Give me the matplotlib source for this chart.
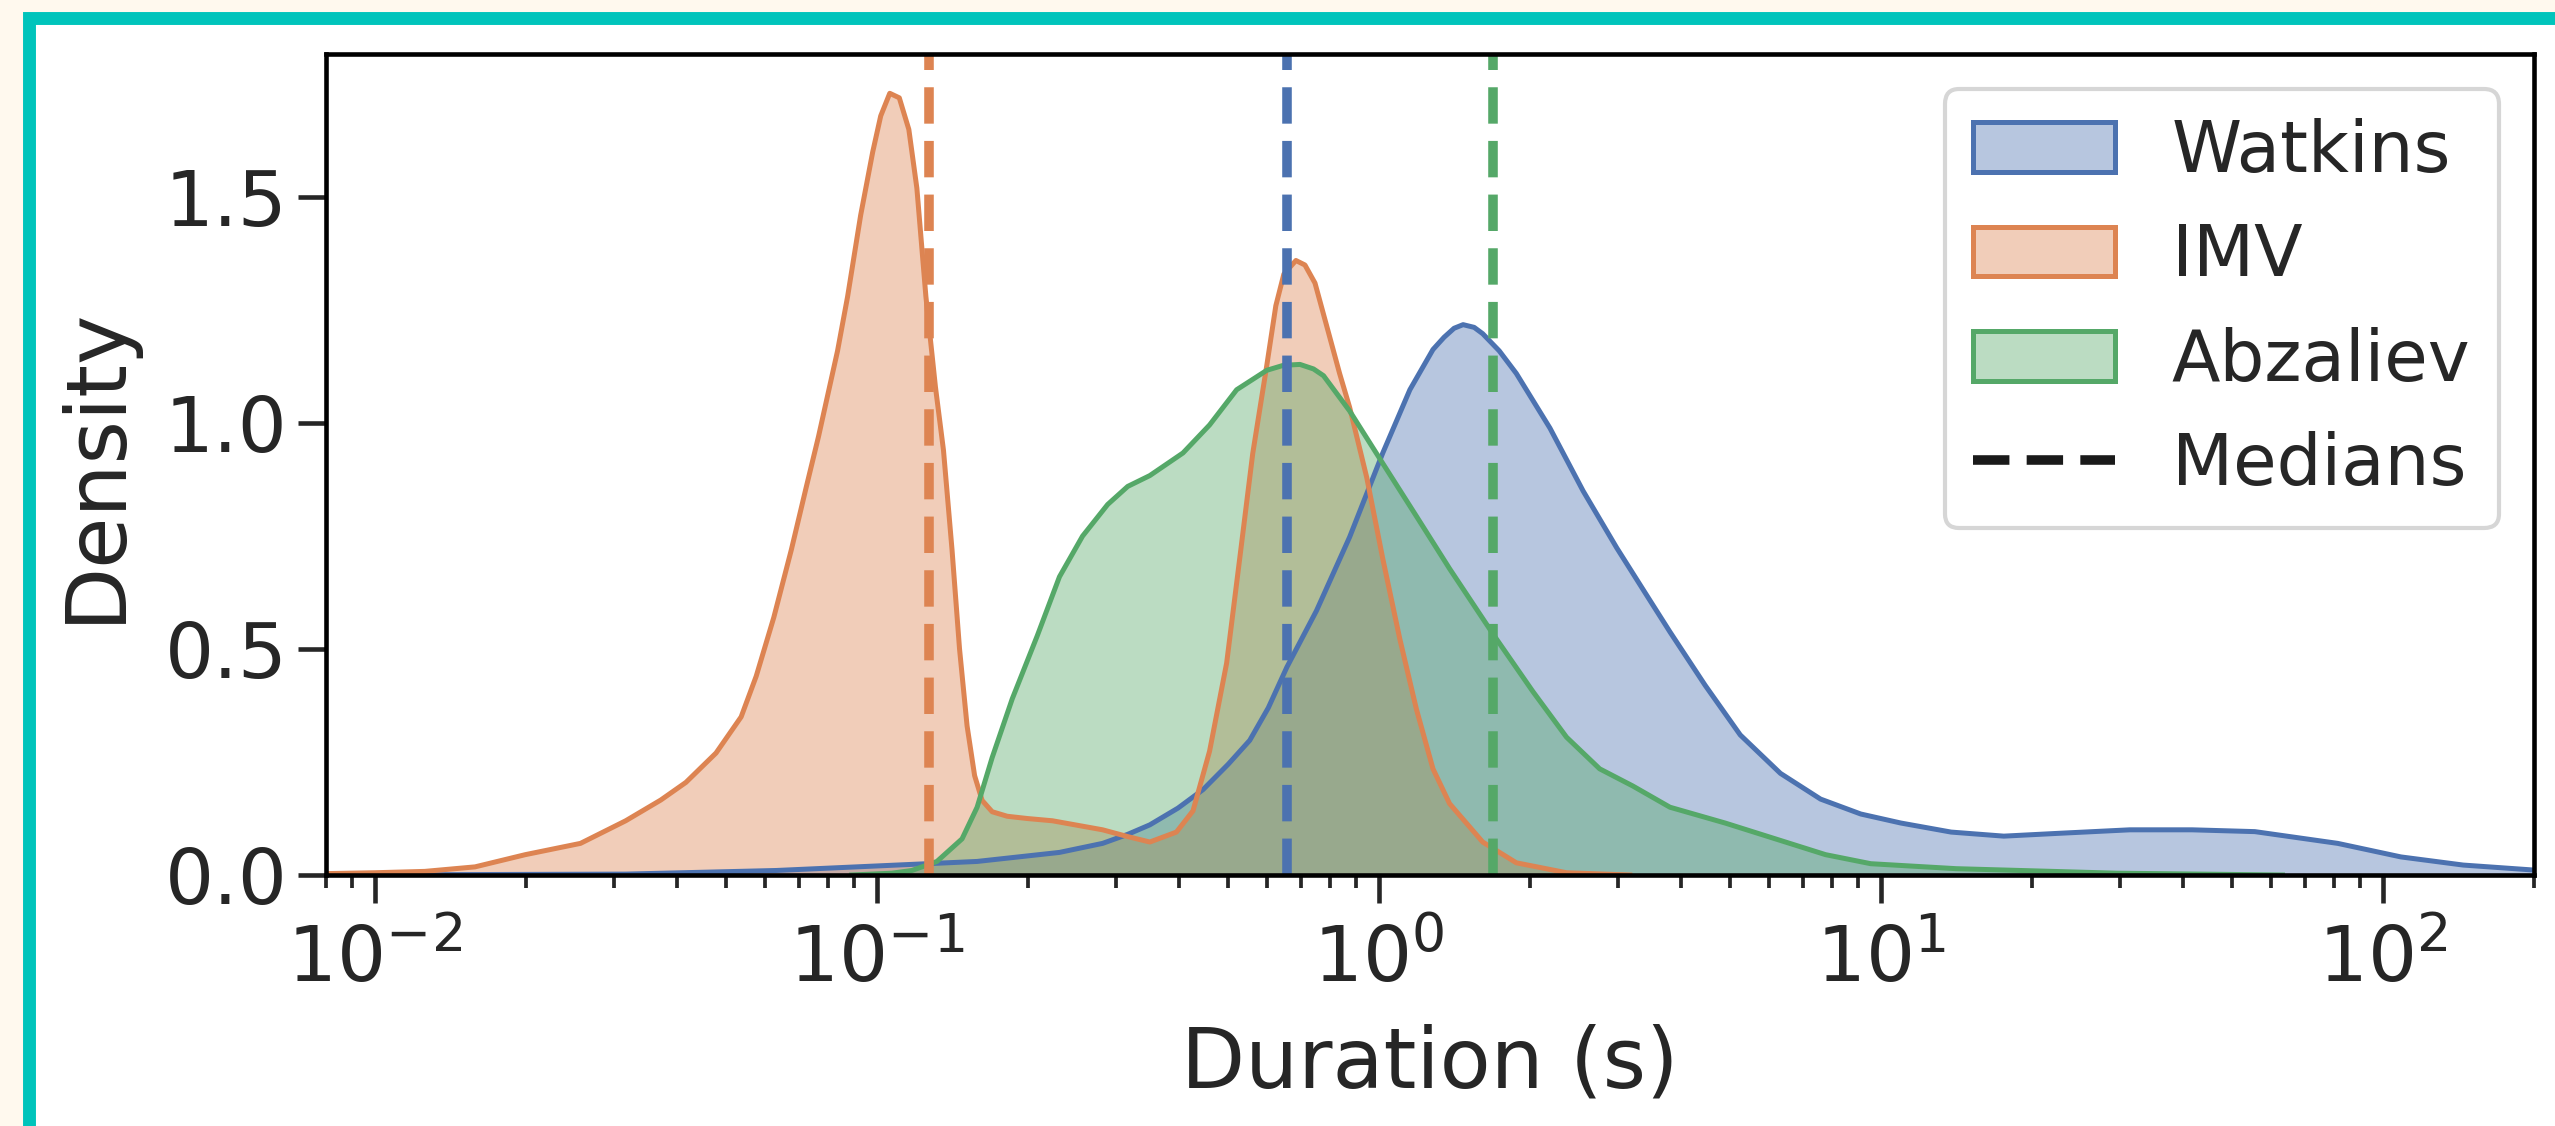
import matplotlib
matplotlib.use("Agg")
import matplotlib.pyplot as plt
from matplotlib.patches import Rectangle, Patch
from matplotlib.lines import Line2D
import numpy as np

# KDE curves: log10(duration) and density
watkins_logx = [-2.10, -1.5, -1.2, -1.0, -0.8, -0.636, -0.55, -0.50, -0.456, -0.40,
                -0.35, -0.30, -0.257, -0.22, -0.183, -0.124, -0.058, 0.008, 0.062, 0.108,
                0.13, 0.15, 0.168, 0.19, 0.207, 0.24, 0.274, 0.341, 0.407, 0.474,
                0.54, 0.58, 0.65, 0.72, 0.80, 0.88, 0.96, 1.04, 1.14, 1.245,
                1.35, 1.496, 1.62, 1.745, 1.91, 2.036, 2.16, 2.30]
watkins_dens = [0.0, 0.002, 0.01, 0.02, 0.03, 0.05, 0.07, 0.09, 0.111, 0.148,
                0.189, 0.245, 0.298, 0.37, 0.46, 0.585, 0.748, 0.934, 1.074, 1.163,
                1.19, 1.21, 1.218, 1.212, 1.198, 1.16, 1.11, 0.989, 0.85, 0.724,
                0.608, 0.538, 0.42, 0.31, 0.225, 0.168, 0.135, 0.115, 0.095, 0.086,
                0.092, 0.10, 0.10, 0.096, 0.07, 0.04, 0.022, 0.011]

imv_logx = [-2.10, -2.0, -1.9, -1.8, -1.7, -1.59, -1.5, -1.43, -1.38, -1.32,
            -1.27, -1.24, -1.205, -1.17, -1.14, -1.116, -1.078, -1.058, -1.032, -1.008,
            -0.992, -0.974, -0.955, -0.936, -0.92, -0.902, -0.883, -0.867, -0.85, -0.835,
            -0.82, -0.805, -0.79, -0.77, -0.74, -0.70, -0.65, -0.60, -0.55, -0.50,
            -0.456, -0.403, -0.37, -0.337, -0.303, -0.277, -0.251, -0.223, -0.205, -0.189,
            -0.165, -0.147, -0.127, -0.10, -0.078, -0.058, -0.024, 0.008, 0.042, 0.075,
            0.108, 0.141, 0.207, 0.274, 0.374, 0.5]
imv_dens = [0.003, 0.005, 0.008, 0.018, 0.045, 0.07, 0.12, 0.166, 0.205, 0.27,
            0.35, 0.44, 0.57, 0.72, 0.86, 0.97, 1.16, 1.28, 1.46, 1.60,
            1.68, 1.73, 1.72, 1.65, 1.52, 1.28, 1.08, 0.94, 0.72, 0.50,
            0.33, 0.22, 0.165, 0.14, 0.13, 0.125, 0.12, 0.11, 0.10, 0.085,
            0.073, 0.095, 0.142, 0.274, 0.469, 0.70, 0.933, 1.128, 1.26, 1.33,
            1.36, 1.35, 1.31, 1.20, 1.11, 1.035, 0.88, 0.70, 0.522, 0.367,
            0.235, 0.158, 0.073, 0.027, 0.005, 0.0]

abz_logx = [-1.05, -0.97, -0.93, -0.88, -0.83, -0.80, -0.77, -0.73, -0.68, -0.636,
            -0.59, -0.54, -0.50, -0.456, -0.39, -0.337, -0.283, -0.223, -0.19, -0.157,
            -0.13, -0.11, -0.058, 0.008, 0.075, 0.141, 0.229, 0.307, 0.374, 0.44,
            0.506, 0.58, 0.69, 0.79, 0.89, 0.98, 1.15, 1.47, 1.8]
abz_dens = [0.0, 0.004, 0.01, 0.03, 0.08, 0.15, 0.26, 0.39, 0.53, 0.66,
            0.75, 0.82, 0.86, 0.884, 0.934, 0.996, 1.074, 1.117, 1.128, 1.13,
            1.12, 1.105, 1.027, 0.911, 0.794, 0.678, 0.531, 0.406, 0.305, 0.235,
            0.197, 0.15, 0.115, 0.08, 0.045, 0.025, 0.014, 0.004, 0.0]

names = ["Watkins", "IMV", "Abzaliev"]
medians = [0.656, 0.127, 1.69]
colors = ["#4C72B0", "#DD8452", "#55A868"]

plt.rcParams['font.family'] = 'DejaVu Sans'
plt.rcParams['text.color'] = '#262626'
plt.rcParams['axes.labelcolor'] = '#262626'
plt.rcParams['xtick.color'] = '#262626'
plt.rcParams['ytick.color'] = '#262626'

fig = plt.figure(figsize=(2555 / 300, 1126 / 300), dpi=300, facecolor='#FFF9EE')

# teal frame, cut off at right and bottom
frame = Rectangle((28.5 / 2555, -0.5), 2.0, 1.5 - 17.5 / 1126, transform=fig.transFigure,
                  facecolor='white', edgecolor='#00C4BB', lw=3.1, zorder=0)
fig.add_artist(frame)

ax = fig.add_axes([326 / 2555, 1 - 875 / 1126, (2534 - 326) / 2555, (875 - 54) / 1126])
ax.set_facecolor('white')

series = [(watkins_logx, watkins_dens), (imv_logx, imv_dens), (abz_logx, abz_dens)]
for (lx, d), c in zip(series, colors):
    x = 10 ** np.array(lx)
    ax.fill_between(x, d, 0, color=c, alpha=0.4, lw=0)
    ax.plot(x, d, color=c, lw=1.2)

for m, c in zip(medians, colors):
    ax.axvline(m, color=c, lw=2.3, dashes=(3.8, 1.8))

ax.set_xscale('log')
ax.set_xlim(0.008, 200)
ax.set_ylim(0, 1.817)
ax.set_yticks([0, 0.5, 1.0, 1.5])

for s in ax.spines.values():
    s.set_color('black')
    s.set_linewidth(1.1)
ax.tick_params(which='major', length=6.7, width=1.1, labelsize=18.5, pad=5)
ax.tick_params(axis='y', pad=2.5)
ax.tick_params(which='minor', length=3.1, width=0.9)

ax.set_xlabel("Duration (s)", fontsize=20, labelpad=6)
ax.set_ylabel("Density", fontsize=20, labelpad=7)

handles = [Patch(facecolor=matplotlib.colors.to_rgba(c, 0.4), edgecolor=c, lw=1.2) for c in colors]
handles.append(Line2D([], [], color='#1a1a1a', lw=2.3, dashes=(3.8, 1.8)))
ax.legend(handles, names + ["Medians"], loc='upper right', fontsize=17)

fig.savefig("out.png", dpi=300, facecolor=fig.get_facecolor())
